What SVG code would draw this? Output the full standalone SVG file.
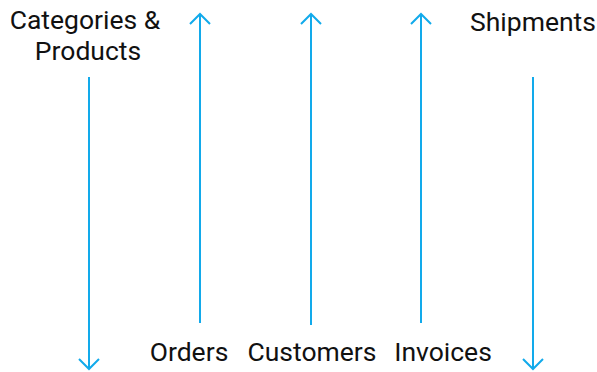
<svg xmlns="http://www.w3.org/2000/svg" width="597" height="372" viewBox="0 0 597 372">
<style>
text{font-family:Roboto,"Liberation Sans",sans-serif;font-size:26.5px;fill:#111;text-anchor:middle}
.c line{stroke:#12aaeb;stroke-width:2}
.c path{stroke:#12aaeb;stroke-width:2;fill:none}
</style>
<rect width="597" height="372" fill="#fff"/>
<g id="n1"><text x="85" y="29">Categories &amp;</text><text x="88" y="60">Products</text></g>
<g id="n2"><text x="533" y="31">Shipments</text></g>
<g id="n3"><text x="189" y="361">Orders</text></g>
<g id="n4"><text x="312" y="361">Customers</text></g>
<g id="n5"><text x="443" y="361">Invoices</text></g>
<g class="c" id="connectors">
<line x1="89" y1="77" x2="89" y2="369"/><path d="M79 359 L89 369 L99 359"/>
<line x1="200" y1="323" x2="200" y2="14"/><path d="M190 24 L200 14 L210 24"/>
<line x1="311" y1="325" x2="311" y2="14"/><path d="M301 24 L311 14 L321 24"/>
<line x1="421" y1="323" x2="421" y2="14"/><path d="M411 24 L421 14 L431 24"/>
<line x1="533" y1="77" x2="533" y2="369"/><path d="M523 359 L533 369 L543 359"/>
</g>
</svg>
